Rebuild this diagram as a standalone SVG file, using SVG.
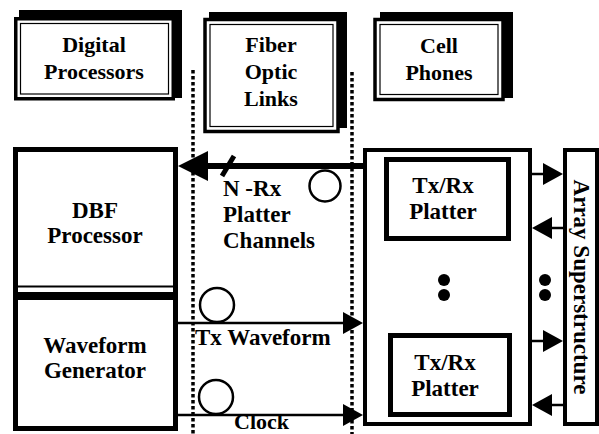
<svg xmlns="http://www.w3.org/2000/svg" width="599" height="434" viewBox="0 0 599 434">
<style>
.t{font-family:"Liberation Serif","Times New Roman",serif;font-weight:bold;font-size:23px;fill:#000}
.s{font-size:22px}
.c{text-anchor:middle}
.box{fill:#fff;stroke:#000;stroke-width:3.5}
.inner{fill:none;stroke:#000;stroke-width:1.2}
.sh{fill:#000}
.thick{fill:none;stroke:#000;stroke-width:5}
.frame{fill:none;stroke:#000;stroke-width:4}
.dotl{fill:none;stroke:#000;stroke-width:3.5;stroke-dasharray:3.5 2.5}
.ln{fill:none;stroke:#000;stroke-width:2.5}
.big{fill:none;stroke:#000;stroke-width:6}
.loop{fill:none;stroke:#000;stroke-width:2.5}
</style>
<defs>
<marker id="ah" viewBox="0 0 20 22" refX="12" refY="11" markerWidth="20" markerHeight="22" markerUnits="userSpaceOnUse" orient="auto"><path d="M0,0 L20,11 L0,22 Z"/></marker>
<marker id="ahb" viewBox="0 0 30 30" refX="22" refY="15" markerWidth="30" markerHeight="30" markerUnits="userSpaceOnUse" orient="auto"><path d="M0,0 L30,15 L0,30 Z"/></marker>
</defs>
<rect width="599" height="434" fill="#fff"/>

<g id="digital-processors">
<rect class="sh" x="19" y="10" width="163" height="88"/>
<rect class="box" x="15.75" y="18.75" width="157.5" height="80"/>
<rect class="inner" x="20.5" y="23.5" width="148" height="70.5"/>
<text class="t s c" x="94" y="52">Digital</text>
<text class="t s c" x="94" y="79">Processors</text>
</g>

<g id="fiber-optic-links">
<rect class="sh" x="209" y="12" width="138" height="116"/>
<rect class="box" x="205" y="19.5" width="133" height="112"/>
<rect class="inner" x="210" y="24.5" width="123" height="102"/>
<text class="t s c" x="271" y="52">Fiber</text>
<text class="t s c" x="271" y="79">Optic</text>
<text class="t s c" x="271" y="106">Links</text>
</g>

<g id="cell-phones">
<rect class="sh" x="380" y="12" width="133" height="86"/>
<rect class="box" x="375" y="19.5" width="128" height="80"/>
<rect class="inner" x="380" y="24.5" width="118" height="70"/>
<text class="t s c" x="439" y="53">Cell</text>
<text class="t s c" x="439" y="80">Phones</text>
</g>

<g id="link-boundaries">
<line class="dotl" x1="193" y1="70" x2="193" y2="434"/>
<line class="dotl" x1="352" y1="72" x2="352" y2="434"/>
</g>

<g id="dbf-processor">
<path class="thick" d="M15.5,292 V149.5 H175.5 V292"/>
<line x1="15.5" y1="286.5" x2="175.5" y2="286.5" stroke="#000" stroke-width="2"/>
<text class="t c" x="95" y="218">DBF</text>
<text class="t c" x="95" y="243">Processor</text>
</g>

<g id="waveform-generator">
<rect x="13" y="292" width="165" height="8" fill="#000"/>
<path class="thick" d="M15.5,296 V428.5 H175.5 V296"/>
<text class="t c" x="95" y="353">Waveform</text>
<text class="t c" x="95" y="378">Generator</text>
</g>

<g id="platter-assembly">
<rect class="frame" x="365" y="150" width="165" height="274"/>
<circle cx="444" cy="280" r="6"/>
<circle cx="444" cy="295" r="6"/>
<circle cx="545" cy="280" r="6"/>
<circle cx="545" cy="295" r="6"/>
</g>

<g id="platter-1">
<rect class="thick" x="386.5" y="159.5" width="122" height="79"/>
<text class="t c" x="443" y="193">Tx/Rx</text>
<text class="t c" x="443" y="219">Platter</text>
</g>

<g id="platter-2">
<rect class="thick" x="390.5" y="335.5" width="119" height="79"/>
<text class="t c" x="445" y="370">Tx/Rx</text>
<text class="t c" x="445" y="396">Platter</text>
</g>

<g id="array-superstructure">
<rect class="frame" x="565" y="150" width="32" height="274"/>
<text class="t c" transform="translate(574,287) rotate(90)">Array Superstructure</text>
</g>

<g id="connectors">
<path class="big" d="M365,166 H186" marker-end="url(#ahb)"/>
<line x1="222" y1="176" x2="234" y2="156" stroke="#000" stroke-width="5"/>
<circle class="loop" cx="325" cy="186" r="15.5" stroke-width="5"/>
<path class="ln" d="M178,323 H355" marker-end="url(#ah)"/>
<circle class="loop" cx="217" cy="305" r="17"/>
<path class="ln" d="M178,415 H355" marker-end="url(#ah)"/>
<circle class="loop" cx="216" cy="397" r="17"/>
<path class="ln" d="M530,174 H555" marker-end="url(#ah)"/>
<path class="ln" d="M565,228 H540" marker-end="url(#ah)"/>
<path class="ln" d="M530,341 H555" marker-end="url(#ah)"/>
<path class="ln" d="M565,405 H540" marker-end="url(#ah)"/>
<text class="t" x="223" y="196">N -Rx</text>
<text class="t" x="223" y="222">Platter</text>
<text class="t" x="223" y="248">Channels</text>
<text class="t" x="195" y="345">Tx Waveform</text>
<text class="t s" x="234" y="428.5">Clock</text>
</g>
</svg>
